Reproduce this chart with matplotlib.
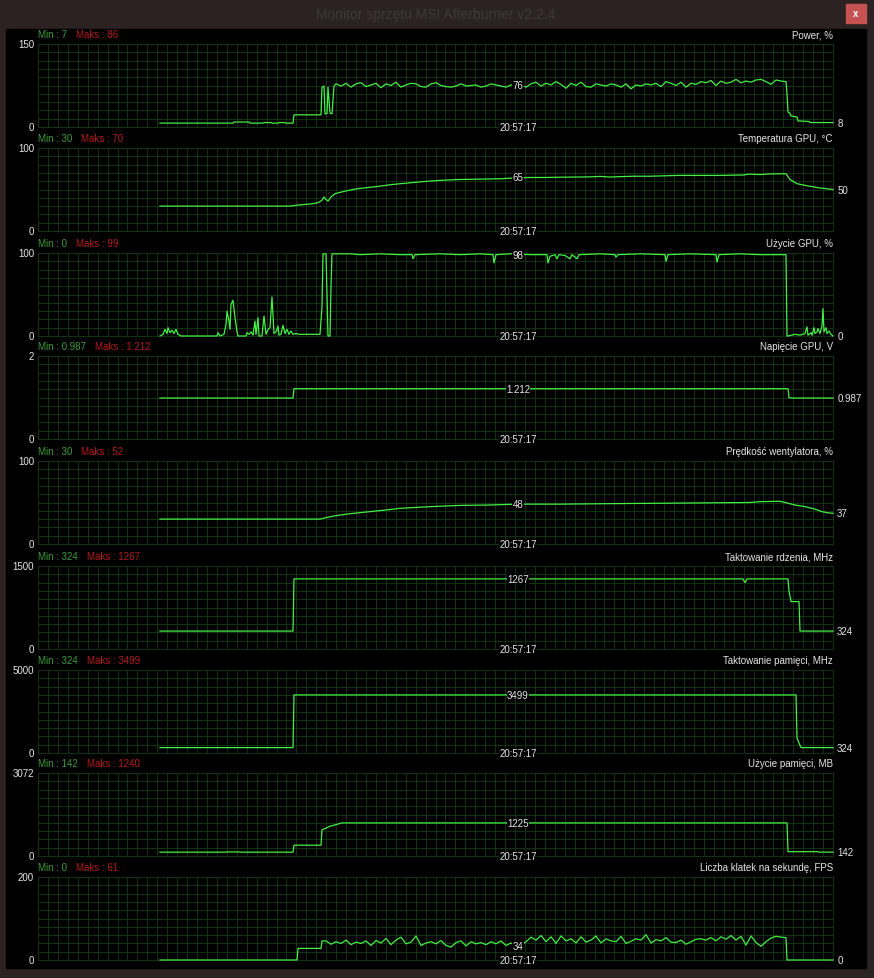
import matplotlib.pyplot as plt
from matplotlib.patches import Rectangle
import numpy as np

plt.rcParams['font.family'] = ['Liberation Sans', 'DejaVu Sans']

W, H = 874, 979

window_title = 'Monitor sprzętu MSI Afterburner v2.2.4'
time_label = '20:57:17'

titles = ['Power, %', 'Temperatura GPU, °C', 'Użycie GPU, %', 'Napięcie GPU, V',
          'Prędkość wentylatora, %', 'Taktowanie rdzenia, MHz', 'Taktowanie pamięci, MHz',
          'Użycie pamięci, MB', 'Liczba klatek na sekundę, FPS']
y_max = [150, 100, 100, 2, 100, 1500, 5000, 3072, 200]
y_max_labels = ['150', '100', '100', '2', '100', '1500', '5000', '3072', '200']
min_labels = ['7', '30', '0', '0.987', '30', '324', '324', '142', '0']
max_labels = ['86', '70', '99', '1.212', '52', '1267', '3499', '1240', '61']
mid_vals = [76, 65, 98, 1.212, 48, 1267, 3499, 1225, 34]
mid_labels = ['76', '65', '98', '1.212', '48', '1267', '3499', '1225', '34']
end_vals = [8, 50, 0, 0.987, 37, 324, 324, 142, 0]
end_labels = ['8', '50', '0', '0.987', '37', '324', '324', '142', '0']

# time in seconds from start of logging, (t, value)
power_start = [(0, 7), (73, 7), (74, 9), (89, 9), (90, 7), (103, 7), (104, 8), (111, 8), (112, 7),
               (118, 7), (119, 8), (125, 8), (126, 7), (133, 7), (134, 22), (161, 22), (162, 72),
               (164, 74), (165, 24), (167, 24), (168, 72), (170, 25), (172, 24), (174, 74)]
power_noise = [78, 74, 79, 72, 78, 80, 73, 76, 79, 71, 78, 75, 81, 72, 76, 79, 78, 73, 72, 78,
               80, 75, 73, 72, 74, 78, 74, 75, 76, 72, 74, 78, 76, 74, 72, 76, 79, 76, 72, 78,
               81, 74, 79, 76, 82, 77, 70, 79, 75, 81, 73, 72, 78, 76, 74, 78, 76, 72, 78, 69,
               76, 74, 78, 76, 79, 73, 82, 79, 75, 81, 72, 79, 77, 82, 80, 84, 75, 83, 79, 81,
               86, 80, 83, 81, 85, 86, 82, 77, 85, 83, 82]
power_end = [(627, 60), (628, 27), (630, 25), (631, 20), (637, 18), (638, 11), (649, 10),
             (650, 8), (673, 8)]

temp = [(0, 30), (130, 30), (140, 31.5), (150, 32.5), (158, 34), (162, 37), (164, 41), (166, 38),
        (168, 36), (171, 41), (175, 45), (185, 48), (195, 50.5), (205, 52), (220, 54), (232, 56),
        (245, 57.5), (263, 59.5), (280, 61), (298, 62), (320, 62.5), (342, 63), (355, 64),
        (370, 64.5), (386, 64.5), (400, 64.8), (415, 65), (430, 65.2), (440, 65.8), (450, 65),
        (460, 65.5), (474, 66), (490, 66), (505, 66.5), (518, 67), (540, 67), (560, 67),
        (584, 67.5), (588, 68.5), (600, 68), (610, 68.8), (626, 69), (630, 62), (637, 57),
        (645, 55), (659, 52), (673, 50)]

gpu = [(0, 0), (3, 2), (5, 8), (7, 3), (8, 10), (10, 4), (12, 7), (14, 3), (16, 8), (18, 2), (21, 0),
       (57, 0), (58, 4), (60, 0), (64, 2), (66, 14), (67, 30), (69, 18), (70, 8), (71, 38), (73, 43),
       (75, 22), (77, 5), (78, 0), (86, 0), (87, 4), (89, 2), (91, 5), (93, 1), (95, 18), (96, 2),
       (98, 22), (99, 0), (102, 0), (104, 24), (106, 2), (108, 8), (110, 10), (112, 47), (114, 3),
       (116, 5), (118, 12), (119, 1), (121, 2), (123, 13), (125, 3), (127, 8), (129, 2), (131, 6),
       (133, 2), (136, 3), (139, 2), (160, 2), (162, 35), (163, 99), (166, 99), (167, 50), (168, 0),
       (170, 0), (171, 60), (172, 99), (190, 99), (200, 98), (220, 99), (240, 98), (252, 98),
       (253, 93), (255, 98), (280, 99), (300, 98), (320, 99), (333, 98), (334, 88), (336, 98),
       (350, 99), (370, 98), (387, 98), (388, 88), (390, 96), (395, 98), (397, 93), (399, 98),
       (405, 97), (410, 93), (412, 98), (417, 93), (419, 98), (440, 99), (455, 98), (456, 95),
       (458, 98), (480, 99), (505, 98), (506, 90), (508, 98), (530, 99), (556, 98), (557, 89),
       (559, 98), (580, 99), (600, 98), (626, 98), (627, 0), (628, 0), (635, 2), (640, 1), (645, 3),
       (647, 11), (648, 1), (651, 4), (652, 1), (654, 10), (655, 3), (657, 5), (658, 9), (660, 3),
       (662, 12), (663, 33), (664, 5), (666, 10), (667, 3), (669, 6), (671, 2), (673, 0)]

volt = [(0, 0.987), (133, 0.987), (134, 1.212), (628, 1.212), (629, 1.0), (632, 0.987), (673, 0.987)]

fan = [(0, 30), (160, 30), (165, 31.5), (175, 34), (190, 36.5), (210, 39), (230, 41.5), (240, 43),
       (270, 45), (300, 46.5), (330, 47), (358, 48), (400, 48), (440, 48.5), (490, 49), (540, 49.5),
       (590, 50), (600, 51), (620, 51.5), (625, 50), (635, 47), (645, 45), (655, 42), (662, 39),
       (668, 37.5), (673, 37)]

core = [(0, 324), (133, 324), (134, 1267), (583, 1267), (585, 1200), (587, 1267), (628, 1267),
        (629, 1043), (631, 857), (639, 857), (640, 324), (673, 324)]

mem_clk = [(0, 324), (133, 324), (134, 3499), (636, 3499), (637, 900), (639, 600), (641, 324),
           (673, 324)]

mem_used = [(0, 142), (65, 142), (66, 150), (80, 150), (81, 142), (133, 142), (134, 400), (161, 400),
            (162, 970), (170, 1100), (182, 1225), (627, 1225), (628, 160), (658, 160), (659, 142),
            (673, 142)]

fps_start = [(0, 0), (137, 0), (138, 28), (161, 28), (162, 46)]
fps_noise = [46, 38, 44, 40, 48, 37, 43, 40, 46, 35, 47, 41, 52, 37, 48, 55, 39, 43, 58, 35,
             41, 44, 39, 47, 35, 31, 42, 46, 34, 44, 39, 42, 37, 44, 39, 46, 35, 41, 34,
             35, 44, 55, 48, 59, 44, 56, 40, 58, 46, 51, 41, 56, 43, 48, 58, 41, 51, 46, 44,
             57, 40, 45, 51, 48, 61, 41, 49, 46, 54, 43, 42, 48, 38, 44, 50, 51, 48, 54, 46,
             56, 50, 59, 48, 57, 36, 58, 42, 33, 44, 53, 57, 55, 54]
fps_end = [(627, 0), (673, 0)]


def knots(pts):
    a = np.array(pts, dtype=float)
    return a[:, 0], a[:, 1]


def with_noise(start, noise, t0, end):
    t1, v1 = knots(start)
    tn = t0 + 5 * np.arange(len(noise))
    t2, v2 = knots(end)
    return np.concatenate([t1, tn, t2]), np.concatenate([v1, noise, v2])


series = [
    with_noise(power_start, power_noise, 176, power_end),
    knots(temp),
    knots(gpu),
    knots(volt),
    knots(fan),
    knots(core),
    knots(mem_clk),
    knots(mem_used),
    with_noise(fps_start, fps_noise, 166, fps_end),
]

# layout in screen pixels
tops = [45, 149, 254, 357, 462, 567, 671, 774, 878]
plot_h = 83
x_left, x_right = 38, 833
t_first = -122   # history window extends before logging began
line_col = '#45f045'
grid_col = '#123412'
txt = '#e6e6e6'
fs = 7


def fx(px):
    return px / W


def fy(py):
    return 1 - py / H


fig = plt.figure(figsize=(W / 100, H / 100), dpi=100)
fig.patch.set_facecolor('#2c2222')
fig.add_artist(Rectangle((fx(6), fy(969)), fx(866) - fx(6), fy(30) - fy(969),
                         transform=fig.transFigure, color='black', zorder=0))
fig.add_artist(Rectangle((fx(846), fy(24)), fx(20), 19 / H, transform=fig.transFigure,
                         color='#c65252', zorder=1))
fig.text(fx(856), fy(14), 'x', color='white', fontsize=7, ha='center', va='center', weight='bold')
fig.text(fx(436), fy(15), window_title, color='#3f3838', fontsize=10, ha='center', va='center')

for i, (t, v) in enumerate(series):
    top = tops[i]
    ax = fig.add_axes([fx(x_left), fy(top + plot_h), fx(x_right - x_left), plot_h / H])
    ax.set_facecolor('black')
    ax.set_xlim(t_first, 673)
    ax.set_ylim(0, y_max[i])
    ax.set_xticks(np.linspace(t_first, 673, 81))
    ax.set_yticks(np.linspace(0, y_max[i], 11))
    ax.grid(color=grid_col, lw=0.7)
    ax.tick_params(length=0, labelbottom=False, labelleft=False)
    for s in ax.spines.values():
        s.set_color(grid_col)
        s.set_linewidth(0.7)
    ax.plot(t, v, color=line_col, lw=0.9, clip_on=False, zorder=3)

    ax.text(358, mid_vals[i], mid_labels[i], color=txt, fontsize=fs, ha='center', va='center',
            zorder=5, bbox=dict(facecolor='black', edgecolor='none', pad=0.3))
    ax.text(358, 0, time_label, color=txt, fontsize=fs, ha='center', va='center', zorder=5,
            bbox=dict(facecolor='black', edgecolor='none', pad=0.3))
    ax.annotate(end_labels[i], (1, end_vals[i] / y_max[i]), xycoords='axes fraction',
                xytext=(3, 0), textcoords='offset points', color=txt, fontsize=fs, va='center',
                annotation_clip=False)

    fig.text(fx(34), fy(top), y_max_labels[i], color=txt, fontsize=fs, ha='right', va='center')
    fig.text(fx(34), fy(top + plot_h), '0', color=txt, fontsize=fs, ha='right', va='center')
    mn = fig.text(fx(x_left), fy(top - 10), 'Min : ' + min_labels[i], color='#3c9c3c',
                  fontsize=fs, ha='left', va='center')
    ax.annotate('Maks : ' + max_labels[i], (1, 0), xycoords=mn, xytext=(6.5, 0),
                textcoords='offset points', color='#b41a1a', fontsize=fs, ha='left', va='bottom',
                annotation_clip=False)
    fig.text(fx(x_right), fy(top - 10), titles[i], color=txt, fontsize=fs, ha='right', va='center')

fig.savefig('out.png', dpi=100, facecolor=fig.get_facecolor())
